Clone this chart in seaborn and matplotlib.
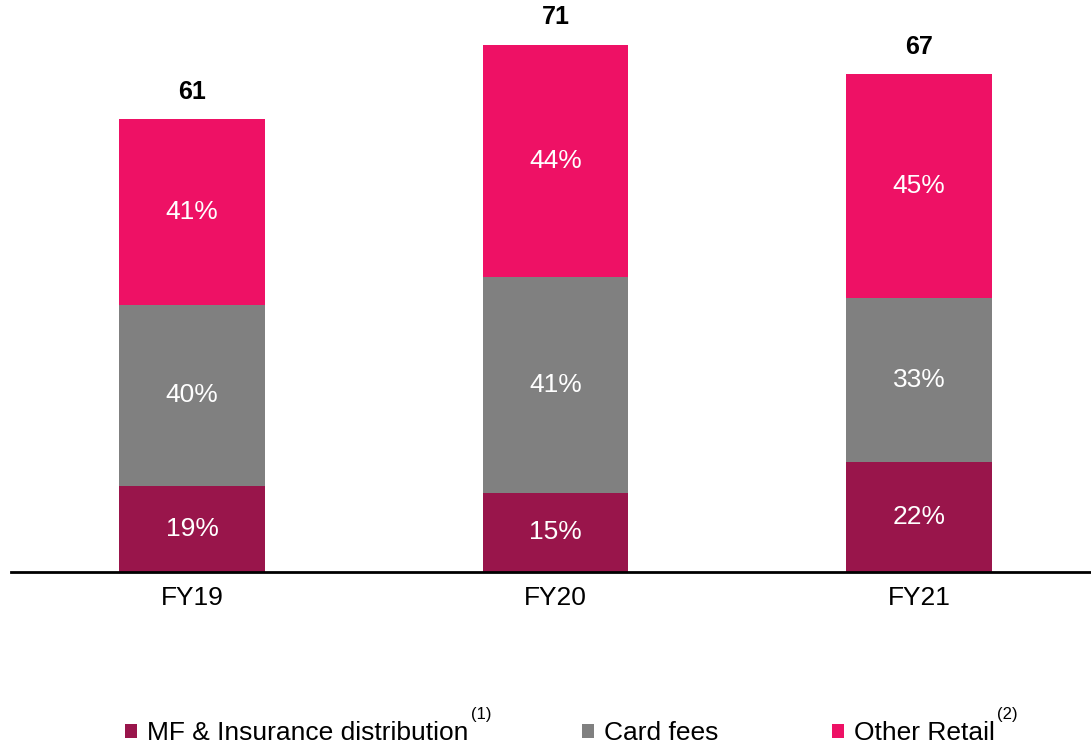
import matplotlib
matplotlib.use("Agg")
import matplotlib.pyplot as plt
import seaborn as sns
import pandas as pd
import numpy as np
from matplotlib.patches import Patch

# ---- data ----
years = ["FY19", "FY20", "FY21"]
totals = [61, 71, 67]
pct_mf = [19, 15, 22]
pct_card = [40, 41, 33]
pct_other = [41, 44, 45]
series_names = ["MF & Insurance distribution", "Card fees", "Other Retail"]
superscripts = ["(1)", None, "(2)"]

c_mf = "#99154B"
c_card = "#808080"
c_other = "#EE1165"

sns.set_theme(style="white")
plt.rcParams["font.family"] = ["Liberation Sans", "DejaVu Sans"]
plt.rcParams["text.color"] = "black"

tot = np.array(totals, dtype=float)
v_mf = tot * np.array(pct_mf) / 100
v_card = tot * np.array(pct_card) / 100
v_other = tot * np.array(pct_other) / 100

df = pd.DataFrame({
    "year": years,
    "mf": v_mf,
    "mf_card": v_mf + v_card,
    "all": v_mf + v_card + v_other,
})

fig = plt.figure(figsize=(10.91, 7.48), dpi=100)
ax = fig.add_axes([0.0101, 0.2353, 0.9899, 0.7647])

# overlay bars (stack drawn from top down)
sns.barplot(data=df, x="year", y="all", color=c_other, width=0.4, ax=ax,
            saturation=1, edgecolor="none")
sns.barplot(data=df, x="year", y="mf_card", color=c_card, width=0.4, ax=ax,
            saturation=1, edgecolor="none")
sns.barplot(data=df, x="year", y="mf", color=c_mf, width=0.4, ax=ax,
            saturation=1, edgecolor="none")

ax.set_xlim(-0.498, 2.473)
ax.set_ylim(0, 77.0)

# segment labels
for i in range(len(years)):
    ax.text(i, v_mf[i] / 2, f"{pct_mf[i]}%", ha="center", va="center",
            color="white", fontsize=19)
    ax.text(i, v_mf[i] + v_card[i] / 2, f"{pct_card[i]}%", ha="center",
            va="center", color="white", fontsize=19)
    ax.text(i, v_mf[i] + v_card[i] + v_other[i] / 2, f"{pct_other[i]}%",
            ha="center", va="center", color="white", fontsize=19)
    ax.annotate(f"{totals[i]}", xy=(i, df["all"][i]), xytext=(0, 11),
                textcoords="offset points", ha="center", va="bottom",
                fontsize=18, fontweight="bold", color="black")

# axes styling
for s in ["top", "right", "left"]:
    ax.spines[s].set_visible(False)
ax.spines["bottom"].set_color("black")
ax.spines["bottom"].set_linewidth(2)
ax.set_yticks([])
ax.set_xlabel("")
ax.set_ylabel("")
ax.tick_params(axis="x", length=0, pad=10, labelsize=19, colors="black")

# legend
handles = [Patch(facecolor=c, edgecolor="none") for c in (c_mf, c_card, c_other)]
leg = fig.legend(handles, series_names, loc="center",
                 bbox_to_anchor=(560 / 1091, 1 - 733 / 748), ncol=3,
                 frameon=False, fontsize=19, handlelength=0.45,
                 handleheight=0.45, handletextpad=0.38, columnspacing=4.3,
                 borderpad=0, borderaxespad=0, labelcolor="black")

fig.canvas.draw()
renderer = fig.canvas.get_renderer()
inv = fig.transFigure.inverted()
for txt, sup in zip(leg.get_texts(), superscripts):
    if sup is None:
        continue
    bb = txt.get_window_extent(renderer)
    x1, y1 = inv.transform((bb.x1 + 2, bb.y1 + 6))
    fig.text(x1, y1, sup, fontsize=12, ha="left", va="center", color="black")

fig.savefig("out.png", dpi=100)
